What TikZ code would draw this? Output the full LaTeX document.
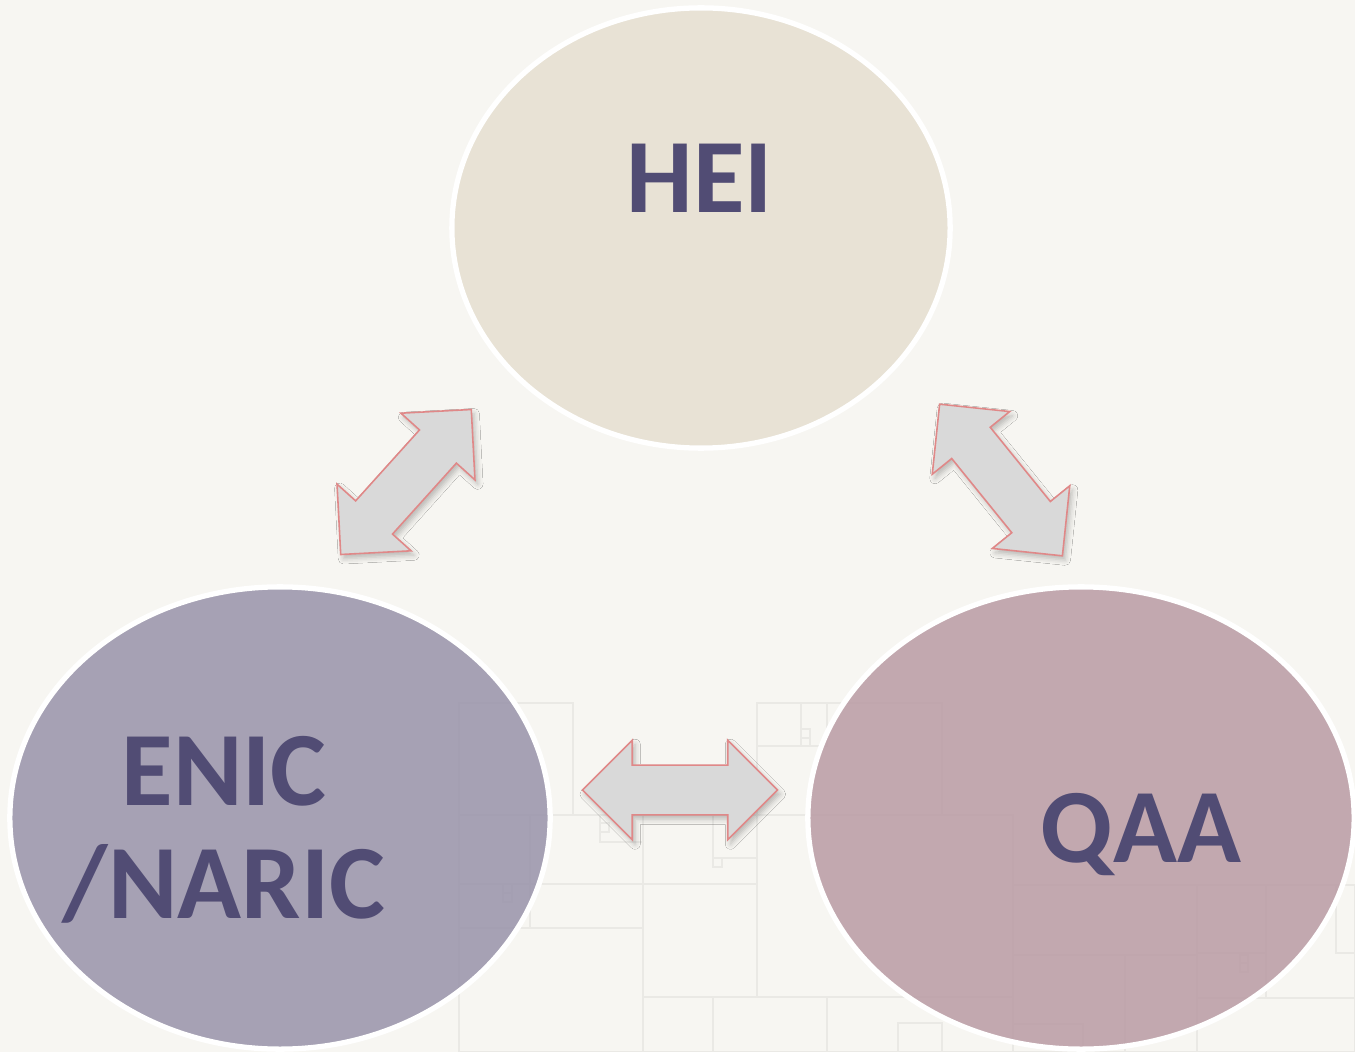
\documentclass[tikz,border=0pt]{standalone}
\usepackage{fontspec}
\setmainfont{Carlito}
\usetikzlibrary{shapes.geometric,shapes.arrows,shadows.blur}
\definecolor{bgcream}{HTML}{F7F6F2}
\definecolor{gridgray}{HTML}{EAE9E5}
\definecolor{heifill}{RGB}{230,223,208}
\definecolor{enicfill}{RGB}{152,147,170}
\definecolor{qaafill}{RGB}{185,155,164}
\definecolor{labelpurple}{HTML}{514C74}
\definecolor{arrowgray}{HTML}{D9D9D9}
\definecolor{arrowred}{HTML}{E08888}

\begin{document}
\begin{tikzpicture}[x=0.01cm,y=-0.01cm,
    blob/.style={ellipse, draw=white, line width=1.5pt, fill opacity=0.85, inner sep=0pt},
    dblarrow/.style={double arrow, fill=arrowgray, draw=arrowred, line width=0.45pt,
      minimum height=1.95cm, double arrow head extend=0.25cm,
      inner xsep=0pt, inner ysep=0.24cm,
      blur shadow={shadow xshift=0.8pt, shadow yshift=-1.2pt, shadow blur radius=1.5pt, shadow opacity=25}},
    word/.style={text=labelpurple, font=\fontsize{30}{32}\selectfont\bfseries, inner sep=0pt}]
      % background and faint squares
      \fill[bgcream] (0,0) rectangle (1355,1052);
      \useasboundingbox (0,0) rectangle (1355,1052);
      \draw[gridgray, line width=0.35pt]
        (459,703) rectangle (573,815) (459,815) rectangle (530,884)
        (459,884) rectangle (530,928) (503,884) rectangle (512,893) (503,893) rectangle (512,902)
        (530,815) rectangle (643,884) (600,815) rectangle (643,842) (600,823) rectangle (609,832)
        (459,928) rectangle (643,1052)
        (643,815) rectangle (757,884) (713,815) rectangle (757,858) (713,858) rectangle (722,867)
        (643,884) rectangle (757,997)
        (757,703) rectangle (942,815) (757,703) rectangle (827,746) (801,703) rectangle (827,746)
        (801,729) rectangle (810,738) (801,738) rectangle (810,746)
        (757,815) rectangle (1013,997)
        (643,997) rectangle (713,1052) (713,997) rectangle (827,1052) (827,997) rectangle (1013,1052)
        (898,1023) rectangle (942,1052)
        (1013,885) rectangle (1197,955) (1013,955) rectangle (1125,1052) (1125,955) rectangle (1197,1052)
        (1013,1024) rectangle (1083,1052)
        (1197,885) rectangle (1266,953) (1197,953) rectangle (1266,998) (1266,885) rectangle (1355,998)
        (1336,885) rectangle (1355,953) (1240,955) rectangle (1248,963) (1240,963) rectangle (1248,972)
        (1197,998) rectangle (1355,1052);
      % the three bodies
      \node[blob, fill=heifill, minimum width=4.98cm, minimum height=4.40cm] (hei) at (701,228) {};
      \node[blob, fill=enicfill, minimum width=5.40cm, minimum height=4.62cm] (enic) at (280,818) {};
      \node[blob, fill=qaafill, minimum width=5.46cm, minimum height=4.62cm] (qaa) at (1081,818) {};
      % arrows between them
      \node[dblarrow, rotate=48] (heienic) at (406,482) {};
      \node[dblarrow, rotate=-51] (heiqaa) at (1001,480) {};
      \node[dblarrow] (enicqaa) at (680,790) {};
      % labels
      \node[word, anchor=base] (heitext) at (700,213) {HEI};
      \node[word, anchor=base, align=center] (enictext) at (224,918) {ENIC\\/NARIC};
      \node[word, anchor=base] (qaatext) at (1141,862) {QAA};
\end{tikzpicture}
\end{document}
